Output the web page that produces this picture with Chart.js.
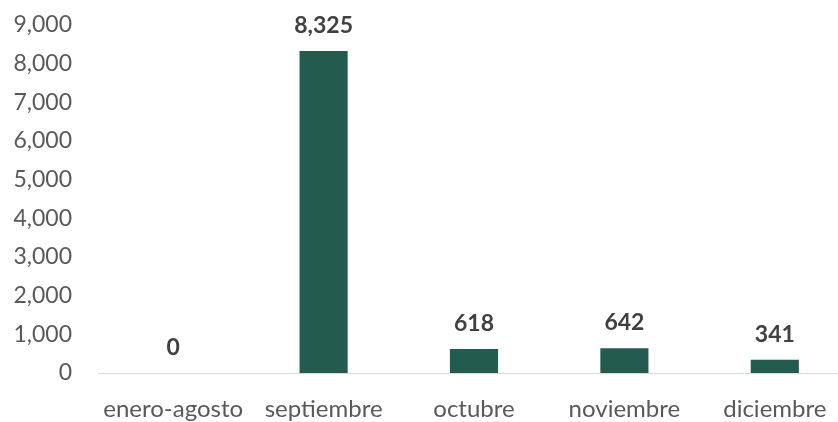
<!DOCTYPE html>
<html>
<head>
<meta charset="utf-8">
<script src="https://cdn.jsdelivr.net/npm/chart.js@4/dist/chart.umd.min.js"></script>
<style>
  html, body { margin: 0; padding: 0; background: #fff; overflow: hidden; }
  #wrap { position: relative; width: 850px; height: 429px; margin-top: -7px; }
</style>
</head>
<body>
<div id="wrap"><canvas id="barChart"></canvas></div>
<script>
var meses = ["enero-agosto", "septiembre", "octubre", "noviembre", "diciembre"];
var valores = [0, 8325, 618, 642, 341];
var yTicks = [0, 1000, 2000, 3000, 4000, 5000, 6000, 7000, 8000, 9000];

// etiquetas encima de las barras
var etiquetas = {
  id: 'etiquetas',
  afterDatasetsDraw: function(chart) {
    var ctx = chart.ctx;
    var meta = chart.getDatasetMeta(0);
    ctx.save();
    ctx.font = "bold 23px Lato, sans-serif";
    ctx.fillStyle = "#404040";
    ctx.textAlign = "center";
    ctx.textBaseline = "alphabetic";
    meta.data.forEach(function(bar, i) {
      ctx.fillText(valores[i].toLocaleString('en-US'), bar.x, bar.y - 18);
    });
    ctx.restore();
  }
};

var ctxB = document.getElementById("barChart").getContext('2d');
var myBarChart = new Chart(ctxB, {
  type: 'bar',
  data: {
    labels: meses,
    datasets: [
      {
        label: "Total",
        backgroundColor: "#235B4E",
        borderWidth: 0,
        categoryPercentage: 1,
        barPercentage: 0.32,
        data: valores,
      }
    ],
  },
  options: {
    responsive: true,
    maintainAspectRatio: false,
    animation: false,
    layout: { padding: 0 },
    plugins: {
      legend: { display: false },
      tooltip: { enabled: false }
    },
    scales: {
      x: {
        grid: { display: false },
        border: { display: true, color: "#d9d9d9", width: 1 },
        afterFit: function(axis) { axis.height = 49; },
        ticks: {
          color: "#595959",
          font: { family: "Lato, sans-serif", size: 24 },
          padding: 14,
          maxRotation: 0,
          autoSkip: false
        }
      },
      y: {
        min: 0,
        max: 9000,
        afterBuildTicks: function(axis) {
          axis.ticks = yTicks.map(function(v) { return { value: v }; });
        },
        afterFit: function(axis) { axis.width = 98; },
        grid: { display: false },
        border: { display: false },
        ticks: {
          color: "#595959",
          font: { family: "Lato, sans-serif", size: 23 },
          padding: 18,
          callback: function(v) { return v.toLocaleString('en-US'); }
        }
      }
    }
  },
  plugins: [etiquetas]
});
</script>
</body>
</html>
